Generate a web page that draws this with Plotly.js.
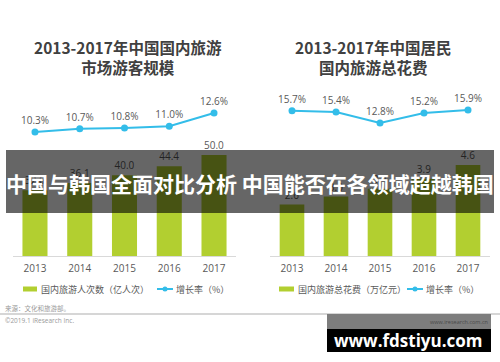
<!DOCTYPE html>
<html>
<head>
<meta charset="utf-8">
<script src="https://cdn.plot.ly/plotly-3.0.1.min.js"></script>
<style>html,body{margin:0;padding:0;background:#fff;}#chart{width:500px;height:362px;}</style>
</head>
<body>
<div id="chart"></div>
<script>
// ---- data ----
const years = ['2013', '2014', '2015', '2016', '2017'];
const touristTrips = [32.6, 36.1, 40.0, 44.4, 50.0];      // 亿人次
const tripsGrowth = [10.3, 10.7, 10.8, 11.0, 12.6];       // %
const tourismSpend = [2.6, 3.0, 3.4, 3.9, 4.6];           // 万亿元
const spendGrowth = [15.7, 15.4, 12.8, 15.2, 15.9];       // %

const leftTitle = '2013-2017年中国国内旅游<br>市场游客规模';
const rightTitle = '2013-2017年中国居民<br>国内旅游总花费';
const leftBarName = '国内旅游人次数（亿人次）';
const rightBarName = '国内旅游总花费（万亿元）';
const growthName = '增长率（%）';
const bannerText = '中国与韩国全面对比分析 中国能否在各领域超越韩国';
const sourceText = '来源：文化和旅游部。';
const copyrightText = '©2019.1 iResearch Inc.';
const siteText = 'www.iresearch.com.cn';
const watermarkText = 'www.fdstiyu.com';

// ---- style ----
const W = 500, H = 362;
const px = x => x / W;
const py = y => 1 - y / H;
const green = '#b2cf30';
const blue = '#33bde9';
const labelGray = '#595959';
const FONT = 'Open Sans, Noto Sans CJK SC, sans-serif';
const CJK = 'Noto Sans CJK SC, sans-serif';

const pct = arr => arr.map(v => v.toFixed(1) + '%');
const fix1 = arr => arr.map(v => v.toFixed(1));

const traces = [
  {type: 'bar', x: years, y: touristTrips, xaxis: 'x', yaxis: 'y',
   marker: {color: green}, text: fix1(touristTrips), textposition: 'outside',
   textfont: {size: 10, color: labelGray, family: FONT}, cliponaxis: false, hoverinfo: 'none'},
  {type: 'scatter', mode: 'lines+markers+text', x: years, y: tripsGrowth, xaxis: 'x', yaxis: 'y2',
   line: {color: blue, width: 2}, marker: {color: blue, size: 7},
   text: pct(tripsGrowth), textposition: 'top center',
   textfont: {size: 10, color: labelGray, family: FONT}, cliponaxis: false, hoverinfo: 'none'},
  {type: 'bar', x: years, y: tourismSpend, xaxis: 'x2', yaxis: 'y3',
   marker: {color: green}, text: fix1(tourismSpend), textposition: 'outside',
   textfont: {size: 10, color: labelGray, family: FONT}, cliponaxis: false, hoverinfo: 'none'},
  {type: 'scatter', mode: 'lines+markers+text', x: years, y: spendGrowth, xaxis: 'x2', yaxis: 'y4',
   line: {color: blue, width: 2}, marker: {color: blue, size: 7},
   text: pct(spendGrowth), textposition: 'top center',
   textfont: {size: 10, color: labelGray, family: FONT}, cliponaxis: false, hoverinfo: 'none'}
];

const yDom = [py(256), py(40)];
const xAxisCommon = {
  type: 'category', range: [-0.5, 4.5], showgrid: false, zeroline: false,
  showline: true, linecolor: '#d9d9d9', linewidth: 1,
  ticks: 'outside', ticklen: 3, tickcolor: 'rgba(0,0,0,0)',
  tickfont: {size: 10, color: labelGray, family: FONT}, fixedrange: true
};
const hiddenY = {visible: false, showgrid: false, zeroline: false, fixedrange: true};

const layout = {
  width: W, height: H, margin: {l: 0, r: 0, t: 0, b: 0},
  paper_bgcolor: '#fff', plot_bgcolor: 'rgba(0,0,0,0)',
  showlegend: false, bargap: 0.44,
  font: {family: FONT},
  xaxis: Object.assign({}, xAxisCommon, {domain: [px(12.6), px(236.4)], anchor: 'y'}),
  xaxis2: Object.assign({}, xAxisCommon, {domain: [px(270), px(490)], anchor: 'y3'}),
  yaxis: Object.assign({}, hiddenY, {domain: yDom, range: [0, 106.9], anchor: 'x'}),
  yaxis2: Object.assign({}, hiddenY, {overlaying: 'y', range: [-4.71, 21.44], anchor: 'x'}),
  yaxis3: Object.assign({}, hiddenY, {domain: yDom, range: [0, 10.91], anchor: 'x2'}),
  yaxis4: Object.assign({}, hiddenY, {overlaying: 'y3', range: [-18.94, 32.6], anchor: 'x2'}),
  shapes: [
    // banner
    {type: 'rect', xref: 'paper', yref: 'paper', x0: px(6), x1: px(494), y0: py(213), y1: py(150),
     fillcolor: 'rgba(0,0,0,0.6)', line: {width: 0}, layer: 'above'},
    // legend symbols
    {type: 'rect', xref: 'paper', yref: 'paper', x0: px(23), x1: px(37), y0: py(291.5), y1: py(286.5),
     fillcolor: green, line: {width: 0}},
    {type: 'line', xref: 'paper', yref: 'paper', x0: px(157), x1: px(173), y0: py(289), y1: py(289),
     line: {color: blue, width: 2}},
    {type: 'circle', xref: 'paper', yref: 'paper', x0: px(162.5), x1: px(167.5), y0: py(291.5), y1: py(286.5),
     fillcolor: blue, line: {width: 0}},
    {type: 'rect', xref: 'paper', yref: 'paper', x0: px(279), x1: px(294), y0: py(291.5), y1: py(286.5),
     fillcolor: green, line: {width: 0}},
    {type: 'line', xref: 'paper', yref: 'paper', x0: px(407), x1: px(423), y0: py(289), y1: py(289),
     line: {color: blue, width: 2}},
    {type: 'circle', xref: 'paper', yref: 'paper', x0: px(412.5), x1: px(417.5), y0: py(291.5), y1: py(286.5),
     fillcolor: blue, line: {width: 0}},
    // footer rule
    {type: 'line', xref: 'paper', yref: 'paper', x0: 0, x1: px(500), y0: py(314), y1: py(314),
     line: {color: '#c8c8c8', width: 1.5}},
    // watermark boxes
    {type: 'rect', xref: 'paper', yref: 'paper', x0: px(327), x1: px(491), y0: py(329), y1: py(314),
     fillcolor: '#7d7d7d', line: {width: 0}, layer: 'above'},
    {type: 'rect', xref: 'paper', yref: 'paper', x0: px(327), x1: px(491), y0: py(352), y1: py(329),
     fillcolor: '#000', line: {width: 0}, layer: 'above'}
  ],
  annotations: [
    {xref: 'paper', yref: 'paper', x: px(128), y: py(57), xanchor: 'center', yanchor: 'middle',
     text: '<b>' + leftTitle + '</b>', showarrow: false, font: {size: 15.5, color: '#404040', family: CJK}},
    {xref: 'paper', yref: 'paper', x: px(373), y: py(57), xanchor: 'center', yanchor: 'middle',
     text: '<b>' + rightTitle + '</b>', showarrow: false, font: {size: 15.5, color: '#404040', family: CJK}},
    {xref: 'paper', yref: 'paper', x: px(39), y: py(289), xanchor: 'left', yanchor: 'middle',
     text: leftBarName, showarrow: false, font: {size: 9, color: labelGray, family: CJK}},
    {xref: 'paper', yref: 'paper', x: px(174), y: py(289), xanchor: 'left', yanchor: 'middle',
     text: growthName, showarrow: false, font: {size: 9, color: labelGray, family: CJK}},
    {xref: 'paper', yref: 'paper', x: px(296), y: py(289), xanchor: 'left', yanchor: 'middle',
     text: rightBarName, showarrow: false, font: {size: 9, color: labelGray, family: CJK}},
    {xref: 'paper', yref: 'paper', x: px(424), y: py(289), xanchor: 'left', yanchor: 'middle',
     text: growthName, showarrow: false, font: {size: 9, color: labelGray, family: CJK}},
    {xref: 'paper', yref: 'paper', x: px(3), y: py(308), xanchor: 'left', yanchor: 'middle',
     text: sourceText, showarrow: false, font: {size: 6.5, color: '#9a9a9a', family: CJK}},
    {xref: 'paper', yref: 'paper', x: px(3), y: py(320), xanchor: 'left', yanchor: 'middle',
     text: copyrightText, showarrow: false, font: {size: 6.5, color: '#9a9a9a', family: FONT}},
    {xref: 'paper', yref: 'paper', x: px(250), y: py(183), xanchor: 'center', yanchor: 'middle',
     text: '<b>' + bannerText + '</b>', showarrow: false, font: {size: 21, color: '#ffffff', family: CJK}},
    {xref: 'paper', yref: 'paper', x: px(490), y: py(322), xanchor: 'right', yanchor: 'middle',
     text: siteText, showarrow: false, font: {size: 5.5, color: '#4a4a4a', family: FONT}},
    {xref: 'paper', yref: 'paper', x: px(408), y: py(340), xanchor: 'center', yanchor: 'middle',
     text: '<b>' + watermarkText + '</b>', showarrow: false, font: {size: 17, color: '#ffffff', family: FONT}}
  ]
};

Plotly.newPlot('chart', traces, layout, {displayModeBar: false, staticPlot: true});
</script>
</body>
</html>
